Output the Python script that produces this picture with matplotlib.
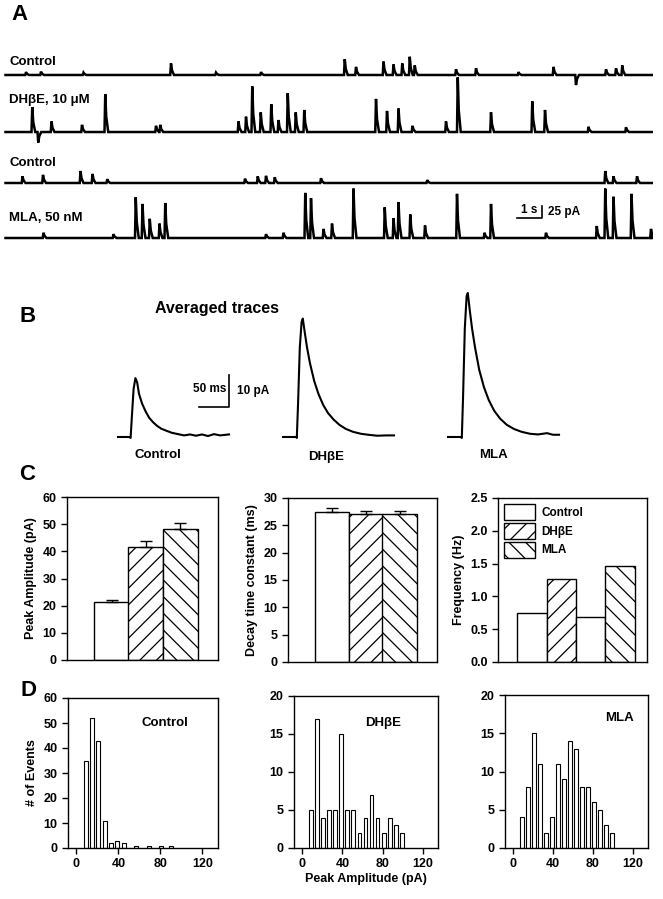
import matplotlib
matplotlib.use("Agg")
import matplotlib.pyplot as plt
from matplotlib.patches import Patch

plt.rcParams["font.family"] = ["Liberation Sans", "DejaVu Sans"]
plt.rcParams["font.weight"] = "bold"
plt.rcParams["hatch.linewidth"] = 0.9

# =============================================================================
# Data
# =============================================================================
# A: spontaneous events (time in s, amplitude in pA) for each sweep
trace_labels = ["Control", "DH\u03b2E, 10 \u03bcM", "Control", "MLA, 50 nM"]
ctrl1_t = [0.9, 1.5, 3.2, 6.7, 8.5, 10.3, 13.65, 14.1, 15.2, 15.6, 15.95, 16.25, 16.45,
           18.1, 18.9, 20.6, 22.0, 22.9, 24.1, 24.5, 24.75]
ctrl1_a = [6, 7, 5, 24, 5, 6, 33, 17, 28, 22, 24, 38, 20, 12, 14, 6, 17, -21, 12, 14, 20]
dhbe_t = [1.15, 1.39, 1.92, 3.14, 4.07, 6.1, 6.27, 9.4, 9.7, 9.95, 10.29, 10.71, 11.0,
          11.37, 11.69, 12.03, 14.9, 15.34, 15.8, 16.36, 17.7, 18.17, 19.5, 21.15, 21.66,
          23.4, 24.9]
dhbe_a = [52, -22, 22, 15, 79, 13, 15, 22, 32, 95, 41, 58, 25, 81, 41, 46, 69, 44, 49,
          13, 22, 114, 41, 64, 46, 11, 10]
ctrl2_t = [0.76, 1.58, 3.08, 3.56, 4.15, 9.66, 10.17, 10.5, 10.85, 12.7, 16.95, 24.07,
           24.4, 25.34]
ctrl2_a = [14, 17, 25, 19, 8, 9, 14, 15, 12, 10, 6, 25, 14, 14]
mla_t = [1.6, 4.4, 5.29, 5.56, 5.85, 6.24, 6.47, 10.5, 11.2, 12.07, 12.3, 12.8, 13.14,
         14.0, 15.25, 15.6, 15.8, 16.27, 16.86, 18.14, 19.24, 19.5, 21.7, 23.73, 24.07,
         24.4, 25.12, 25.9]
mla_a = [11, 8, 85, 71, 40, 30, 73, 8, 11, 94, 83, 19, 30, 103, 64, 41, 75, 49, 26, 92,
         11, 71, 11, 25, 103, 86, 92, 19]

# B: averaged traces (ms, pA)
avg_ctrl_t = [0, 19, 21, 23, 26, 29, 32, 35, 40, 46, 52, 58, 65, 72, 80, 90, 100, 110,
              120, 130, 140, 150, 160, 170, 185]
avg_ctrl_a = [0, 0, -0.3, 6, 15, 18.4, 17, 13.5, 10.5, 8, 6, 4.7, 3.5, 2.6, 2, 1.3, 0.9,
              0.5, 0.8, 0.4, 0.8, 0.3, 0.9, 0.5, 0.8]
avg_dhbe_t = [0, 22, 23, 25, 28, 31, 33, 36, 40, 45, 52, 59, 67, 75, 84, 94, 105, 117,
              130, 142, 157, 172, 185]
avg_dhbe_a = [0, 0, -0.3, 10, 28, 36, 37, 33, 28, 23, 17.5, 13.5, 10, 7.5, 5.5, 3.8, 2.5,
              1.6, 1, 0.7, 0.4, 0.5, 0.5]
avg_mla_t = [0, 22, 23, 25, 28, 31, 33, 36, 40, 45, 52, 60, 68, 77, 87, 98, 110, 123,
             137, 150, 165, 175, 185]
avg_mla_a = [0, 0, -0.3, 12, 34, 44, 45, 40, 34, 28, 21, 15.5, 11.5, 8.2, 5.7, 3.8, 2.5,
             1.6, 1.0, 0.8, 1.2, 0.7, 0.7]
avg_labels = ["Control", "DH\u03b2E", "MLA"]

# C: summary bars
groups = ["Control", "DH\u03b2E", "MLA"]
amp_mean = [21.2, 41.7, 48.3]
amp_sem = [1.0, 2.1, 2.0]
decay_mean = [27.4, 27.1, 27.1]
decay_sem = [0.8, 0.6, 0.6]
freq_groups = ["Control", "DH\u03b2E", "Control", "MLA"]
freq_vals = [0.74, 1.26, 0.69, 1.46]

# D: amplitude histograms (bin centre pA, count)
hist_ctrl_x = [9, 15, 21, 27, 33, 39, 45, 57, 69, 81, 90]
hist_ctrl_n = [35, 52, 43, 11, 2, 3, 2, 1, 1, 1, 1]
hist_dhbe_x = [9, 15, 21, 27, 33, 39, 45, 51, 57, 63, 69, 75, 81, 87, 93, 99]
hist_dhbe_n = [5, 17, 4, 5, 5, 15, 5, 5, 2, 4, 7, 4, 2, 4, 3, 2]
hist_mla_x = [9, 15, 21, 27, 33, 39, 45, 51, 57, 63, 69, 75, 81, 87, 93, 99]
hist_mla_n = [4, 8, 15, 11, 2, 4, 11, 9, 14, 13, 8, 8, 6, 5, 3, 2]

# =============================================================================
# Layout helpers (pixel coordinates, origin top-left)
# =============================================================================
W, H = 663, 899
fig = plt.figure(figsize=(W / 100, H / 100), dpi=100)


def px_rect(x0, y0, x1, y1):
    return [x0 / W, 1 - y1 / H, (x1 - x0) / W, (y1 - y0) / H]


def ftext(x, y, s, **kw):
    kw.setdefault("va", "center")
    kw.setdefault("fontweight", "bold")
    fig.text(x / W, 1 - y / H, s, **kw)


def event_trace(times, amps, t_end=25.95):
    xs, ys = [0.1], [0.0]
    for t, a in zip(times, amps):
        xs += [t - 0.01, t + 0.02, t + 0.06, t + 0.14]
        ys += [0.0, a, 0.4 * a, 0.0]
    xs.append(t_end)
    ys.append(0.0)
    return xs, ys


# =============================================================================
# Panel A
# =============================================================================
axA = fig.add_axes(px_rect(3, 40, 653, 250))
axA.set_xlim(0, 26)
axA.set_ylim(0, 437.5)
axA.axis("off")
offsets = [364.6, 245.8, 139.6, 25.0]
sweeps = [(ctrl1_t, ctrl1_a), (dhbe_t, dhbe_a), (ctrl2_t, ctrl2_a), (mla_t, mla_a)]
for (tt, aa), off in zip(sweeps, offsets):
    xs, ys = event_trace(tt, aa)
    axA.plot(xs, [y + off for y in ys], color="black", lw=1.8, solid_joinstyle="miter")

# scale bar 1 s / 25 pA
axA.plot([20.56, 21.56, 21.56], [66.7, 66.7, 91.7], color="black", lw=1.2)
axA.text(21.06, 70, "1 s", ha="center", va="bottom", fontsize=8.5, fontweight="bold")
axA.text(21.8, 79, "25 pA", ha="left", va="center", fontsize=8.5, fontweight="bold")

ftext(20, 15, "A", fontsize=16, ha="center")
for lab, y in zip(trace_labels, [62, 100, 163, 218]):
    ftext(9, y, lab, fontsize=9.5, ha="left")

# =============================================================================
# Panel B
# =============================================================================
axB = fig.add_axes(px_rect(100, 280, 600, 445))
axB.set_xlim(0, 833.3)
axB.set_ylim(0, 51.56)
axB.axis("off")
base = 2.5
for (tt, aa), t0 in zip([(avg_ctrl_t, avg_ctrl_a), (avg_dhbe_t, avg_dhbe_a),
                         (avg_mla_t, avg_mla_a)], [30, 305, 580]):
    axB.plot([t + t0 for t in tt], [a + base for a in aa], color="black", lw=1.5)

# scale bar 50 ms / 10 pA
axB.plot([165, 215, 215], [11.9, 11.9, 21.9], color="black", lw=1.2)
axB.text(210, 17.5, "50 ms", ha="right", va="center", fontsize=8.5, fontweight="bold")
axB.text(228, 17, "10 pA", ha="left", va="center", fontsize=8.5, fontweight="bold")

ftext(28, 316, "B", fontsize=16, ha="center")
ftext(155, 309, "Averaged traces", fontsize=11.5, ha="left")
for lab, x, y in zip(avg_labels, [158, 326, 493], [455, 457, 455]):
    ftext(x, y, lab, fontsize=9.5, ha="center")

# =============================================================================
# Panel C
# =============================================================================
def style_box(ax):
    for s in ax.spines.values():
        s.set_linewidth(1.0)
    ax.tick_params(direction="out", length=4, width=1.0, labelsize=9,
                   top=False, right=False)
    for lab in ax.get_xticklabels() + ax.get_yticklabels():
        lab.set_fontweight("bold")


hatches = ["", "//", "\\\\"]
bar_kw = dict(width=1.02, edgecolor="black", facecolor="white", linewidth=1.0)

axC1 = fig.add_axes(px_rect(67, 497, 218, 660))
axC1.bar([1, 2, 3], amp_mean, hatch=hatches, **bar_kw)
axC1.errorbar([1, 2, 3], amp_mean, yerr=[[0, 0, 0], amp_sem], fmt="none",
              ecolor="black", elinewidth=1.0, capsize=4.5, capthick=1.0)
axC1.set_xlim(-0.3, 4.1)
axC1.set_ylim(0, 60)
axC1.set_yticks(range(0, 61, 10))
axC1.set_ylabel("Peak Amplitude (pA)", fontsize=9, fontweight="bold", labelpad=4)
axC1.tick_params(axis="x", bottom=False, labelbottom=False)
style_box(axC1)

axC2 = fig.add_axes(px_rect(288, 498, 437, 662))
axC2.bar([1, 2, 3], decay_mean, hatch=hatches, **bar_kw)
axC2.errorbar([1, 2, 3], decay_mean, yerr=[[0, 0, 0], decay_sem], fmt="none",
              ecolor="black", elinewidth=1.0, capsize=4.5, capthick=1.0)
axC2.set_xlim(-0.3, 4.1)
axC2.set_ylim(0, 30)
axC2.set_yticks(range(0, 31, 5))
axC2.set_ylabel("Decay time constant (ms)", fontsize=9, fontweight="bold", labelpad=4)
axC2.tick_params(axis="x", bottom=False, labelbottom=False)
style_box(axC2)

axC3 = fig.add_axes(px_rect(498, 498, 647, 662))
freq_hatch = {"Control": "", "DH\u03b2E": "//", "MLA": "\\\\"}
axC3.bar([1, 2, 3, 4], freq_vals, width=1.0, edgecolor="black", facecolor="white",
         linewidth=1.0, hatch=[freq_hatch[g] for g in freq_groups])
axC3.set_xlim(-0.16, 4.92)
axC3.set_ylim(0, 2.5)
axC3.set_yticks([0, 0.5, 1.0, 1.5, 2.0, 2.5])
axC3.set_yticklabels(["0.0", "0.5", "1.0", "1.5", "2.0", "2.5"])
axC3.set_ylabel("Frequency (Hz)", fontsize=9, fontweight="bold", labelpad=4)
axC3.tick_params(axis="x", bottom=False, labelbottom=False)
handles = [Patch(facecolor="white", edgecolor="black", linewidth=1.0, hatch=freq_hatch[g])
           for g in groups]
axC3.legend(handles, groups, loc="upper left", frameon=False,
            handlelength=2.6, handleheight=1.7, labelspacing=0.25, handletextpad=0.6,
            borderaxespad=0.3, borderpad=0.2, prop={"weight": "bold", "size": 8.5})
style_box(axC3)

ftext(27, 475, "C", fontsize=16, ha="center")

# =============================================================================
# Panel D
# =============================================================================
hist_sets = [
    (hist_ctrl_x, hist_ctrl_n, (68, 698, 218, 848), 60, 10, "Control", (84, 50)),
    (hist_dhbe_x, hist_dhbe_n, (294, 696, 438, 848), 20, 5, "DH\u03b2E", (81, 16.5)),
    (hist_mla_x, hist_mla_n, (505, 695, 648, 848), 20, 5, "MLA", (107, 17)),
]
d_axes = []
for hx, hn, r, ymax, ystep, lab, (tx, ty) in hist_sets:
    ax = fig.add_axes(px_rect(*r))
    ax.bar(hx, hn, width=3.8, facecolor="white", edgecolor="black", linewidth=0.8)
    ax.set_xlim(-8, 135)
    ax.set_ylim(0, ymax)
    ax.set_xticks([0, 40, 80, 120])
    ax.set_yticks(range(0, ymax + 1, ystep))
    ax.text(tx, ty, lab, ha="center", va="center", fontsize=9.5, fontweight="bold")
    style_box(ax)
    d_axes.append(ax)

d_axes[0].set_ylabel("# of Events", fontsize=9, fontweight="bold", labelpad=4)
d_axes[1].set_xlabel("Peak Amplitude (pA)", fontsize=9, fontweight="bold", labelpad=2)
ftext(29, 690, "D", fontsize=16, ha="center")

fig.savefig("out.png", dpi=100)
